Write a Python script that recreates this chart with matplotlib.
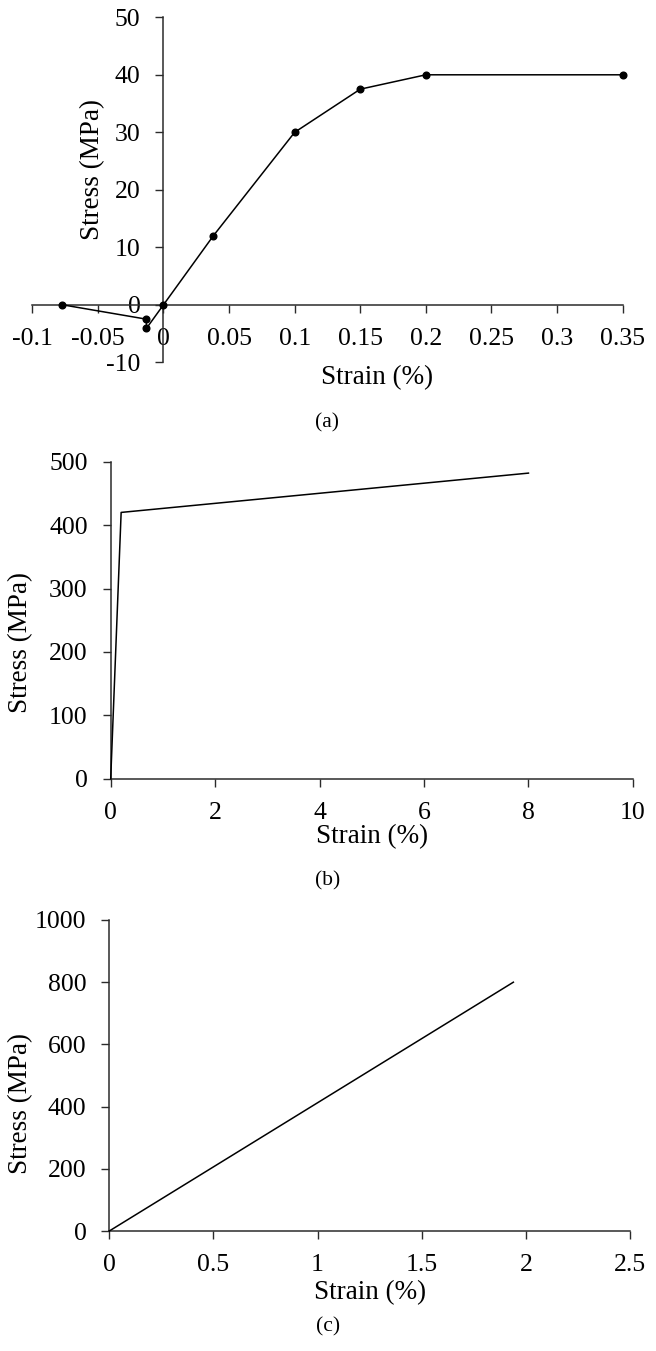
import matplotlib
matplotlib.use('Agg')
import matplotlib.pyplot as plt

plt.rcParams['font.family'] = ['Liberation Serif', 'DejaVu Serif']
plt.rcParams['axes.unicode_minus'] = False

# ---------------- data ----------------
# Panel (a)
strain_a = [-0.077, -0.013, -0.013, 0.0, 0.038, 0.10, 0.15, 0.20, 0.35]
stress_a = [0.0, -2.5, -4.1, 0.0, 12.0, 30.0, 37.5, 40.0, 40.0]
xticks_a = [-0.1, -0.05, 0, 0.05, 0.1, 0.15, 0.2, 0.25, 0.3, 0.35]
xticklabels_a = ['-0.1', '-0.05', '0', '0.05', '0.1', '0.15', '0.2', '0.25', '0.3', '0.35']
yticks_a = [-10, 0, 10, 20, 30, 40, 50]
yticklabels_a = ['-10', '0', '10', '20', '30', '40', '50']

# Panel (b)
strain_b = [0.0, 0.2, 8.0]
stress_b = [0.0, 420.0, 482.0]
xticks_b = [0, 2, 4, 6, 8, 10]
xticklabels_b = ['0', '2', '4', '6', '8', '10']
yticks_b = [0, 100, 200, 300, 400, 500]
yticklabels_b = ['0', '100', '200', '300', '400', '500']

# Panel (c)
strain_c = [0.0, 1.94]
stress_c = [0.0, 800.0]
xticks_c = [0, 0.5, 1, 1.5, 2, 2.5]
xticklabels_c = ['0', '0.5', '1', '1.5', '2', '2.5']
yticks_c = [0, 200, 400, 600, 800, 1000]
yticklabels_c = ['0', '200', '400', '600', '800', '1000']

captions = ['(a)', '(b)', '(c)']
xlabel_text = 'Strain (%)'
ylabel_text = 'Stress (MPa)'

# ---------------- layout ----------------
W, H, DPI = 656, 1351, 100
fig = plt.figure(figsize=(W / DPI, H / DPI), dpi=DPI)

TICK_FS = 18.5
LABEL_FS = 19.5
CAP_FS = 15.5
SPINE_C = '#2b2b2b'


def px_axes(left, right, top, bottom):
    return fig.add_axes([left / W, 1 - bottom / H, (right - left) / W, (bottom - top) / H])


def fig_xy(x, y):
    return x / W, 1 - y / H


def style(ax, xlim, ylim, xt, xtl, yt, ytl, centered=False):
    ax.set_xlim(*xlim)
    ax.set_ylim(*ylim)
    ax.spines['top'].set_visible(False)
    ax.spines['right'].set_visible(False)
    if centered:
        ax.spines['left'].set_position(('data', 0))
        ax.spines['bottom'].set_position(('data', 0))
    for s in ('left', 'bottom'):
        ax.spines[s].set_color(SPINE_C)
        ax.spines[s].set_linewidth(1.1)
    ax.set_xticks(xt)
    ax.set_xticklabels(xtl)
    ax.set_yticks(yt)
    ax.set_yticklabels(ytl)
    ax.tick_params(axis='both', direction='out', length=5.5, width=1.0,
                   color=SPINE_C, labelsize=TICK_FS, pad=11)
    ax.patch.set_alpha(0)


def labels(ax, xl_pos, yl_pos, cap_pos, cap):
    ax.set_xlabel(xlabel_text, fontsize=LABEL_FS)
    ax.xaxis.set_label_coords(*fig_xy(*xl_pos), transform=fig.transFigure)
    ax.xaxis.label.set_va('center')
    ax.set_ylabel(ylabel_text, fontsize=LABEL_FS)
    ax.yaxis.set_label_coords(*fig_xy(*yl_pos), transform=fig.transFigure)
    ax.yaxis.label.set_va('center')
    ax.yaxis.label.set_ha('center')
    fig.text(*fig_xy(*cap_pos), cap, fontsize=CAP_FS, ha='center', va='center')


# Panel (a)
ax_a = px_axes(32.3, 622.6, 17.3, 362.3)
style(ax_a, (-0.1, 0.35), (-10, 50), xticks_a, xticklabels_a, yticks_a, yticklabels_a, centered=True)
ax_a.plot(strain_a, stress_a, color='black', lw=1.1, marker='o', ms=4.8, clip_on=False, zorder=3)
labels(ax_a, (377, 378), (92.5, 170), (327, 423), captions[0])

# Panel (b)
ax_b = px_axes(110.7, 632.9, 461.7, 778.7)
style(ax_b, (0, 10), (0, 500), xticks_b, xticklabels_b, yticks_b, yticklabels_b)
ax_b.plot(strain_b, stress_b, color='black', lw=1.1, clip_on=False, zorder=3)
labels(ax_b, (372, 837), (21, 643), (328, 881), captions[1])

# Panel (c)
ax_c = px_axes(109.3, 630.0, 920.0, 1231.0)
style(ax_c, (0, 2.5), (0, 1000), xticks_c, xticklabels_c, yticks_c, yticklabels_c)
ax_c.plot(strain_c, stress_c, color='black', lw=1.1, clip_on=False, zorder=3)
labels(ax_c, (370, 1293), (21, 1103), (328, 1327), captions[2])

fig.savefig('out.png', dpi=DPI)
